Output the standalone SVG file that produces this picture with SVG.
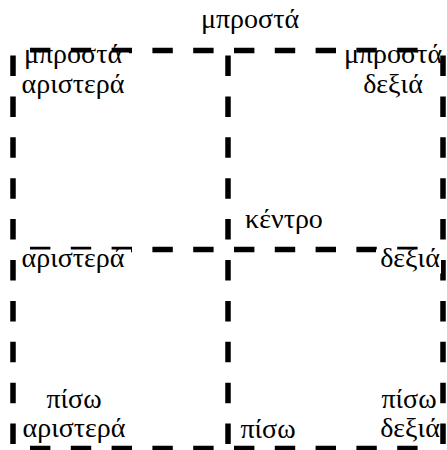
<svg xmlns="http://www.w3.org/2000/svg" width="447" height="450" viewBox="0 0 447 450">
<style>
.ln{stroke:#000;stroke-width:5.5;fill:none}
.h{stroke-dasharray:20.4 20.4}
.v{stroke-dasharray:20.5 20.4}
.bg{fill:#fff;stroke:none}
text{font-family:"Liberation Serif","DejaVu Serif",serif;font-size:28px;fill:#000;text-anchor:middle}
</style>
<rect width="447" height="450" fill="#fff"/>
<g id="connectors">
<line class="ln h" x1="30" y1="50.5" x2="420" y2="50.5"/>
<line class="ln h" x1="30" y1="249.5" x2="420" y2="249.5"/>
<line class="ln h" x1="30" y1="448.5" x2="420" y2="448.5"/>
<line class="ln v" x1="13" y1="55.5" x2="13" y2="445"/>
<line class="ln v" x1="228" y1="55.5" x2="228" y2="445"/>
<line class="ln v" x1="443" y1="55.5" x2="443" y2="445"/>
</g>
<g id="front">
<text x="250" y="28">μπροστά</text>
</g>
<g id="front-left">
<rect class="bg" x="17" y="52.5" width="112" height="48"/>
<text x="73" y="63">μπροστά</text>
<text x="73" y="93">αριστερά</text>
</g>
<g id="front-right">
<rect class="bg" x="340" y="52.5" width="100" height="48"/>
<text x="393" y="63">μπροστά</text>
<text x="393" y="93">δεξιά</text>
</g>
<g id="center">
<text x="284" y="228">κέντρο</text>
</g>
<g id="left">
<rect class="bg" x="16" y="249.5" width="115" height="24"/>
<text x="73" y="267">αριστερά</text>
</g>
<g id="right">
<rect class="bg" x="376" y="249.5" width="65" height="24"/>
<text x="410" y="267">δεξιά</text>
</g>
<g id="back-left">
<text x="74" y="408">πίσω</text>
<text x="74" y="437">αριστερά</text>
</g>
<g id="back">
<text x="268" y="438">πίσω</text>
</g>
<g id="back-right">
<text x="409" y="408">πίσω</text>
<text x="410" y="437">δεξιά</text>
</g>
</svg>
